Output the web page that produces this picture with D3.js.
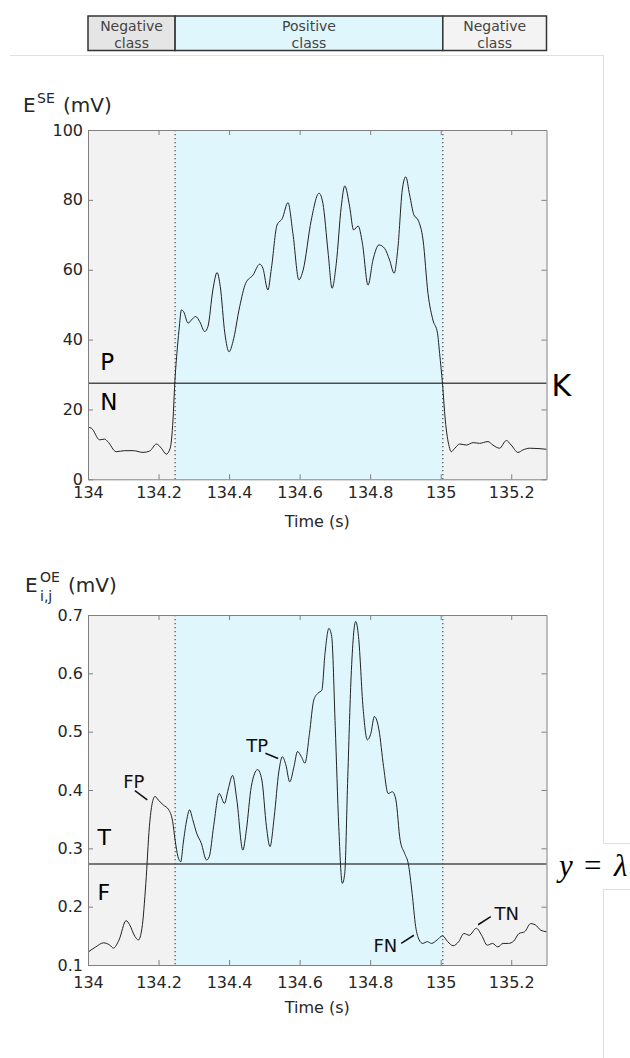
<!DOCTYPE html>
<html>
<head>
<meta charset="utf-8">
<script src="https://cdn.jsdelivr.net/npm/d3@7"></script>
<style>
  body { margin: 0; background: #fff; }
  svg { display: block; font-family: "DejaVu Sans", sans-serif; }
  .tick text { fill: #262626; font-size: 16px; font-family: "DejaVu Sans", sans-serif; }
  .tick line, .domain { stroke: #808080; }
</style>
</head>
<body>
<div id="chart"></div>
<script>
// Class boundaries (s) and thresholds
var posStart = 134.247;
var posEnd = 135.006;
var K = 27.5;
var lambda = 0.273;

var xTicks = [134, 134.2, 134.4, 134.6, 134.8, 135, 135.2];
var seTicks = [0, 20, 40, 60, 80, 100];
var oeTicks = [0.1, 0.2, 0.3, 0.4, 0.5, 0.6, 0.7];

var headerLabels = ["Negative\nclass", "Positive\nclass", "Negative\nclass"];

// E^SE trace (top)
var seTime = [134, 134.01, 134.033, 134.047, 134.056, 134.08, 134.104, 134.128, 134.156, 134.175, 134.194,
  134.208, 134.222, 134.233, 134.241, 134.246, 134.252, 134.258, 134.265, 134.271, 134.284, 134.293,
  134.305, 134.317, 134.331, 134.34, 134.354, 134.366, 134.375, 134.388, 134.4, 134.411, 134.43,
  134.447, 134.468, 134.487, 134.496, 134.51, 134.52, 134.536, 134.551, 134.567, 134.581, 134.598,
  134.61, 134.633, 134.655, 134.666, 134.681, 134.692, 134.704, 134.718, 134.728, 134.742, 134.753,
  134.766, 134.778, 134.794, 134.808, 134.825, 134.841, 134.855, 134.868, 134.879, 134.891, 134.901,
  134.912, 134.924, 134.936, 134.95, 134.964, 134.978, 134.991, 134.997, 135.005, 135.013, 135.024,
  135.03, 135.04, 135.054, 135.073, 135.092, 135.11, 135.134, 135.148, 135.167, 135.186, 135.2,
  135.219, 135.233, 135.252, 135.3];
var seValue = [14.9, 14.6, 11.3, 11.5, 10.8, 7.9, 8.2, 8.2, 7.7, 8.1, 10.1,
  8.9, 7.2, 8.9, 17, 27.5, 36, 42.7, 48.5, 48, 44.7, 45.6,
  46.6, 45.1, 42.3, 43.7, 54.2, 59.2, 55.2, 41.8, 36.5, 39.4, 49.4,
  56.1, 58.5, 61.6, 60.4, 54.2, 60.4, 72.8, 74.7, 79.2, 70.4, 57.1,
  59.9, 74.2, 81.9, 79, 64.7, 54.7, 61.8, 78, 84, 78, 71.4,
  72.5, 67.6, 55.6, 62.8, 67.1, 66.1, 62.8, 59, 66.6, 82.8, 86.6,
  81.4, 75.7, 74.2, 68.5, 53.2, 45.6, 41.8, 36, 27.5, 17, 9.4,
  7.9, 8.9, 10.1, 9.8, 10.5, 10.3, 10.8, 9.8, 8.9, 11.1, 9.8,
  7.7, 8.4, 8.9, 8.6];

// E^OE_{i,j} trace (bottom)
var oeTime = [134, 134.022, 134.044, 134.062, 134.072, 134.088, 134.108, 134.118, 134.133, 134.143, 134.153,
  134.164, 134.174, 134.182, 134.19, 134.199, 134.214, 134.229, 134.24, 134.247, 134.255, 134.263,
  134.27, 134.28, 134.288, 134.297, 134.308, 134.321, 134.336, 134.344, 134.356, 134.372, 134.387,
  134.397, 134.41, 134.422, 134.439, 134.449, 134.463, 134.481, 134.493, 134.506, 134.516, 134.528,
  134.541, 134.551, 134.561, 134.572, 134.584, 134.594, 134.605, 134.615, 134.628, 134.64, 134.652,
  134.663, 134.672, 134.683, 134.691, 134.701, 134.711, 134.721, 134.728, 134.736, 134.746, 134.759,
  134.767, 134.78, 134.792, 134.802, 134.812, 134.825, 134.838, 134.851, 134.863, 134.873, 134.885,
  134.898, 134.908, 134.919, 134.929, 134.939, 134.949, 134.962, 134.974, 134.99, 135.005, 135.02,
  135.035, 135.051, 135.066, 135.081, 135.101, 135.116, 135.132, 135.147, 135.162, 135.177, 135.192,
  135.207, 135.222, 135.238, 135.255, 135.268, 135.283, 135.3];
var oeValue = [0.122, 0.131, 0.138, 0.134, 0.129, 0.143, 0.176, 0.169, 0.149, 0.143, 0.163,
  0.24, 0.337, 0.377, 0.389, 0.383, 0.374, 0.366, 0.346, 0.314, 0.286, 0.277,
  0.309, 0.349, 0.366, 0.349, 0.326, 0.309, 0.28, 0.286, 0.337, 0.394, 0.377,
  0.4, 0.425, 0.383, 0.297, 0.331, 0.406, 0.435, 0.417, 0.337, 0.303, 0.354,
  0.431, 0.457, 0.443, 0.414, 0.44, 0.466, 0.457, 0.446, 0.497, 0.554, 0.566,
  0.571, 0.634, 0.677, 0.663, 0.509, 0.337, 0.24, 0.257, 0.411, 0.594, 0.689,
  0.663, 0.54, 0.486, 0.497, 0.526, 0.503, 0.44, 0.394, 0.397, 0.383, 0.314,
  0.291, 0.274, 0.223, 0.166, 0.143, 0.137, 0.14, 0.137, 0.143, 0.15, 0.14,
  0.133, 0.14, 0.154, 0.151, 0.163, 0.151, 0.134, 0.137, 0.131, 0.137, 0.137,
  0.141, 0.154, 0.157, 0.171, 0.169, 0.16, 0.157];

// callouts on the lower trace: label position and leader line, in data units
var callouts = [
  { label: "FP", t: 134.130, v: 0.403, t1: 134.133, v1: 0.399, t2: 134.168, v2: 0.383 },
  { label: "TP", t: 134.480, v: 0.466, t1: 134.503, v1: 0.463, t2: 134.539, v2: 0.454 },
  { label: "FN", t: 134.843, v: 0.123, t1: 134.888, v1: 0.137, t2: 134.924, v2: 0.151 },
  { label: "TN", t: 135.187, v: 0.177, t1: 135.106, v1: 0.169, t2: 135.142, v2: 0.183 }
];

var svgWidth = 630;
var svgHeight = 1058;

var svg = d3.select("#chart")
  .append("svg")
  .attr("width", svgWidth)
  .attr("height", svgHeight);

var x = d3.scaleLinear().domain([134, 135.3]).range([88, 546.5]);
var ySE = d3.scaleLinear().domain([0, 100]).range([479.3, 130]);
var yOE = d3.scaleLinear().domain([0.1, 0.7]).range([965, 615]);

// page frame lines
var frame = "#e0e0e0";
svg.append("line").attr("x1", 10).attr("x2", 603).attr("y1", 55.5).attr("y2", 55.5).attr("stroke", frame);
svg.append("line").attr("x1", 603.5).attr("x2", 603.5).attr("y1", 55).attr("y2", 843).attr("stroke", frame);
svg.append("line").attr("x1", 603.5).attr("x2", 603.5).attr("y1", 889).attr("y2", 1058).attr("stroke", frame);
svg.append("line").attr("x1", 603).attr("x2", 630).attr("y1", 843.5).attr("y2", 843.5).attr("stroke", frame);
svg.append("line").attr("x1", 603).attr("x2", 630).attr("y1", 889.5).attr("y2", 889.5).attr("stroke", frame);

// header strip
var bounds = [134, posStart, posEnd, 135.3];
var headFill = ["#e5e5e5", "#dff6fc", "#f3f3f3"];
var header = svg.append("g");
headerLabels.forEach(function(lab, i) {
  header.append("rect")
    .attr("x", x(bounds[i]))
    .attr("y", 16)
    .attr("width", x(bounds[i + 1]) - x(bounds[i]))
    .attr("height", 34.5)
    .attr("fill", headFill[i])
    .attr("stroke", "#333")
    .attr("stroke-width", 1.5);
  var cx = (x(bounds[i]) + x(bounds[i + 1])) / 2;
  lab.split("\n").forEach(function(line, j) {
    header.append("text")
      .attr("x", cx)
      .attr("y", 30.5 + j * 17.5)
      .attr("text-anchor", "middle")
      .attr("font-size", 14)
      .attr("fill", "#444")
      .text(line);
  });
});

function drawPanel(y, tT, tV, thr, yTicks, yFmt, xPad) {
  var g = svg.append("g");
  var x0 = x.range()[0], x1 = x.range()[1];
  var yb = y.range()[0], yt = y.range()[1];

  g.append("rect").attr("x", x0).attr("y", yt).attr("width", x1 - x0).attr("height", yb - yt)
    .attr("fill", "#f2f2f2");
  g.append("rect").attr("x", x(posStart)).attr("y", yt)
    .attr("width", x(posEnd) - x(posStart)).attr("height", yb - yt)
    .attr("fill", "#dff6fc");

  [posStart, posEnd].forEach(function(b) {
    g.append("line")
      .attr("x1", x(b)).attr("x2", x(b))
      .attr("y1", yt).attr("y2", yb)
      .attr("stroke", "#555")
      .attr("stroke-width", 1.3)
      .attr("stroke-dasharray", "1.3,2.7");
  });

  g.append("line")
    .attr("x1", x0).attr("x2", x1)
    .attr("y1", y(thr)).attr("y2", y(thr))
    .attr("stroke", "#4d4d4d")
    .attr("stroke-width", 1.5);

  var pts = tT.map(function(t, i) { return [t, tV[i]]; });
  var line = d3.line()
    .x(d => x(d[0]))
    .y(d => y(d[1]))
    .curve(d3.curveMonotoneX);
  g.append("path")
    .datum(pts)
    .attr("d", line)
    .attr("fill", "none")
    .attr("stroke", "#222")
    .attr("stroke-width", 1);

  g.append("g")
    .attr("transform", `translate(0, ${yb})`)
    .call(d3.axisBottom(x).tickValues(xTicks).tickFormat(d => String(d))
      .tickSizeInner(-5).tickSizeOuter(0).tickPadding(xPad));
  g.append("g")
    .attr("transform", `translate(0, ${yt})`)
    .call(d3.axisTop(x).tickValues(xTicks).tickFormat("")
      .tickSizeInner(-5).tickSizeOuter(0));
  g.append("g")
    .attr("transform", `translate(${x0}, 0)`)
    .call(d3.axisLeft(y).tickValues(yTicks).tickFormat(yFmt)
      .tickSizeInner(-5).tickSizeOuter(0).tickPadding(5));
  g.append("g")
    .attr("transform", `translate(${x1}, 0)`)
    .call(d3.axisRight(y).tickValues(yTicks).tickFormat("")
      .tickSizeInner(-5).tickSizeOuter(0));

  g.append("text")
    .attr("x", (x0 + x1) / 2)
    .attr("y", yb + 48)
    .attr("text-anchor", "middle")
    .attr("font-size", 16)
    .attr("fill", "#262626")
    .text("Time (s)");
  return g;
}

var topPanel = drawPanel(ySE, seTime, seValue, K, seTicks, d3.format("d"), 7);
var botPanel = drawPanel(yOE, oeTime, oeValue, lambda, oeTicks, d3.format(".1f"), 12);

// y labels
svg.append("text").attr("x", 23).attr("y", 111.5).attr("fill", "#262626").attr("font-size", 20).text("E");
svg.append("text").attr("x", 37).attr("y", 103).attr("fill", "#262626").attr("font-size", 14).text("SE");
svg.append("text").attr("x", 63).attr("y", 111.5).attr("fill", "#262626").attr("font-size", 20).text("(mV)");

svg.append("text").attr("x", 25).attr("y", 591.5).attr("fill", "#262626").attr("font-size", 20).text("E");
svg.append("text").attr("x", 40).attr("y", 581.5).attr("fill", "#262626").attr("font-size", 14).text("OE");
svg.append("text").attr("x", 40).attr("y", 601).attr("fill", "#262626").attr("font-size", 14).text("i,j");
svg.append("text").attr("x", 68).attr("y", 591.5).attr("fill", "#262626").attr("font-size", 20).text("(mV)");

// region letters
topPanel.append("text").attr("x", x(134.035)).attr("y", ySE(31.3)).attr("font-size", 23).text("P");
topPanel.append("text").attr("x", x(134.035)).attr("y", ySE(19.8)).attr("font-size", 23).text("N");
topPanel.append("text").attr("x", x.range()[1] + 5).attr("y", ySE(23.9)).attr("font-size", 30).text("K");
botPanel.append("text").attr("x", x(134.027)).attr("y", yOE(0.3057)).attr("font-size", 22).text("T");
botPanel.append("text").attr("x", x(134.027)).attr("y", yOE(0.2114)).attr("font-size", 22).text("F");

var eqY = yOE(0.2526);
var eqFont = "'Liberation Serif', 'DejaVu Serif', serif";
botPanel.append("text").attr("x", 559).attr("y", eqY).attr("font-family", eqFont)
  .attr("font-size", 31).attr("font-style", "italic").text("y");
botPanel.append("text").attr("x", 584).attr("y", eqY).attr("font-family", eqFont)
  .attr("font-size", 31).text("=");
botPanel.append("text").attr("x", 614).attr("y", eqY).attr("font-family", eqFont)
  .attr("font-size", 31).attr("font-style", "italic").text("λ");

callouts.forEach(function(c) {
  botPanel.append("line")
    .attr("x1", x(c.t1)).attr("y1", yOE(c.v1))
    .attr("x2", x(c.t2)).attr("y2", yOE(c.v2))
    .attr("stroke", "#111").attr("stroke-width", 1.5);
  botPanel.append("text")
    .attr("x", x(c.t)).attr("y", yOE(c.v))
    .attr("text-anchor", "middle")
    .attr("font-size", 18)
    .attr("fill", "#111")
    .text(c.label);
});
</script>
</body>
</html>
